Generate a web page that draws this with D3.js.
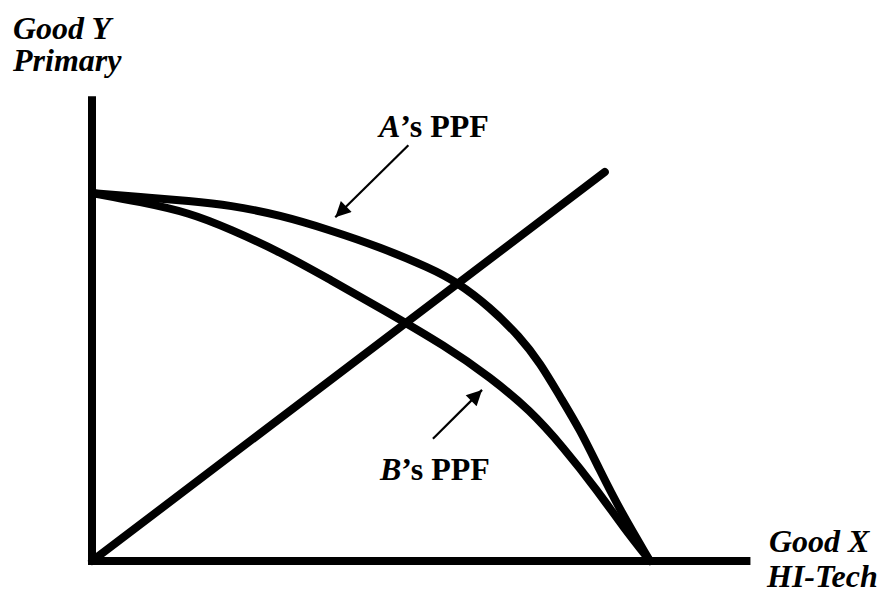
<!DOCTYPE html>
<html><head><meta charset="utf-8">
<script src="https://cdn.jsdelivr.net/npm/d3@7"></script>
<style>body{margin:0;background:#fff}svg{display:block}</style>
</head><body>
<script>
// Data (chart units: Good X 0..100, Good Y 0..100)
const ppfA_x = [0, 8.6, 17.6, 24.7, 33.7, 42.7, 51.6, 60.6, 65.4, 71.3, 76.7, 80.3, 83.9, 87.5, 91.0, 94.6, 100];
const ppfA_y = [100, 98.9, 97.8, 96.7, 94.0, 89.9, 85.3, 79.6, 75.8, 69.0, 60.9, 53.8, 44.6, 35.6, 24.7, 13.9, 0];
const ppfB_x = [0, 8.6, 17.6, 24.7, 33.7, 42.7, 51.6, 63.6, 71.3, 78.5, 84.4, 90.5, 95.2, 100];
const ppfB_y = [100, 97.6, 94.6, 90.2, 84.0, 76.4, 68.8, 58.2, 50.0, 41.0, 31.0, 19.3, 9.2, 0];
const ray_x = [0, 91.9];
const ray_y = [0, 105.7];
const axisEnd = {x: 118, y: 126.3};
const arrowA = {from: [56.7, 113.0], to: [43.6, 93.4]};
const arrowB = {from: [61.1, 33.2], to: [69.9, 46.5]};

const W = 893, H = 599;
const svg = d3.select("body").append("svg").attr("width", W).attr("height", H);
const x = d3.scaleLinear().domain([0, 100]).range([92, 650]);
const y = d3.scaleLinear().domain([0, 100]).range([561, 193]);

// axes
svg.append("line").attr("x1", x(0)).attr("x2", x(0)).attr("y1", y(0)+4).attr("y2", y(axisEnd.y))
  .attr("stroke", "#000").attr("stroke-width", 8);
svg.append("line").attr("x1", x(0)).attr("x2", x(axisEnd.x)).attr("y1", y(0)).attr("y2", y(0))
  .attr("stroke", "#000").attr("stroke-width", 8);

const line = d3.line().x(d => x(d[0])).y(d => y(d[1])).curve(d3.curveBasis);
const A = ppfA_x.map((v, i) => [v, ppfA_y[i]]);
const B = ppfB_x.map((v, i) => [v, ppfB_y[i]]);
const R = ray_x.map((v, i) => [v, ray_y[i]]);

[A, B].forEach(pts => svg.append("path").attr("d", line(pts)).attr("fill", "none")
  .attr("stroke", "#000").attr("stroke-width", 8).attr("stroke-linecap", "round"));
svg.append("path").attr("d", d3.line().x(d => x(d[0])).y(d => y(d[1]))(R))
  .attr("fill", "none").attr("stroke", "#000").attr("stroke-width", 8).attr("stroke-linecap", "round");

// arrows
svg.append("defs").append("marker").attr("id", "ah").attr("viewBox", "0 0 10 10")
  .attr("refX", 10).attr("refY", 5).attr("markerWidth", 9).attr("markerHeight", 7)
  .attr("markerUnits", "strokeWidth").attr("orient", "auto")
  .append("path").attr("d", "M0,0 L10,5 L0,10 Z").attr("fill", "#000");
[arrowA, arrowB].forEach(a => svg.append("line")
  .attr("x1", x(a.from[0])).attr("y1", y(a.from[1]))
  .attr("x2", x(a.to[0])).attr("y2", y(a.to[1]))
  .attr("stroke", "#000").attr("stroke-width", 2.2).attr("marker-end", "url(#ah)"));

// text
const font = "'Liberation Serif','Times New Roman',serif";
function label(tx, ty, parts) {
  const t = svg.append("text").attr("x", tx).attr("y", ty)
    .attr("font-family", font).attr("font-size", 32).attr("font-weight", "bold").attr("fill", "#000");
  parts.forEach(p => t.append("tspan").attr("font-style", p[1] ? "italic" : "normal").text(p[0]));
}
label(13, 39, [["Good Y", true]]);
label(13, 71, [["Primary", true]]);
label(769, 552, [["Good X", true]]);
label(767, 587, [["HI-Tech", true]]);
label(379, 137, [["A", true], ["\u2019s PPF", false]]);
label(380, 480, [["B", true], ["\u2019s PPF", false]]);
</script>
</body></html>
